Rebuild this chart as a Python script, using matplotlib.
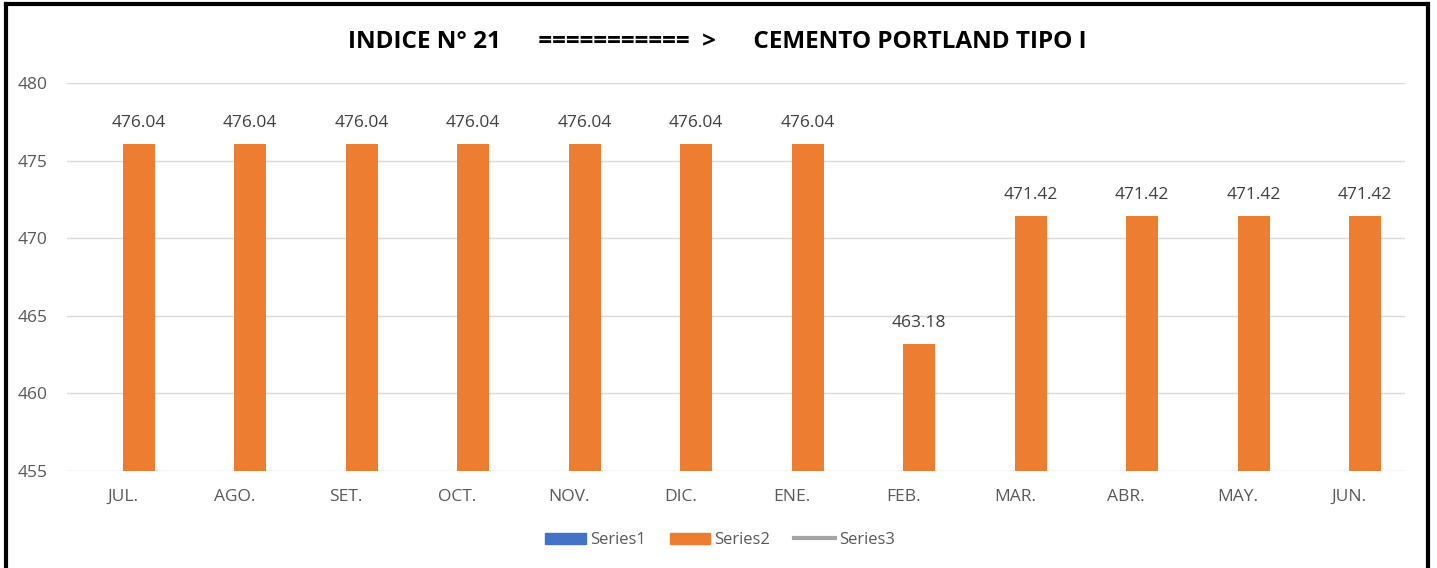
import matplotlib
matplotlib.use("Agg")
import matplotlib.pyplot as plt
import numpy as np
from matplotlib.lines import Line2D
from matplotlib.patches import Patch

categories = ["JUL.", "AGO.", "SET.", "OCT.", "NOV.", "DIC.", "ENE.", "FEB.", "MAR.", "ABR.", "MAY.", "JUN."]
series1 = [np.nan] * 12
series2 = [476.04, 476.04, 476.04, 476.04, 476.04, 476.04, 476.04, 463.18, 471.42, 471.42, 471.42, 471.42]
series3 = [np.nan] * 12
yticks = [455, 460, 465, 470, 475, 480]
title = "INDICE N° 21      ===========  >      CEMENTO PORTLAND TIPO I"

plt.rcParams['font.family'] = ['Open Sans', 'DejaVu Sans']

fig = plt.figure(figsize=(14.37, 5.68), dpi=100)
ax = fig.add_axes([67/1437, 1-471/568, (1405-67)/1437, (471-83)/568])

x = np.arange(len(categories))
w = 0.287
ax.bar(x - w/2, series1, w, color="#4472C4", label="Series1")
bars = ax.bar(x + w/2, series2, w, color="#ED7D31", label="Series2")
ax.plot(x, series3, color="#A5A5A5", lw=3, label="Series3")

for xi, v in zip(x, series2):
    ax.text(xi + w/2, v + 0.85, f"{v:.2f}", ha="center", va="bottom", fontsize=12.5, color="#404040")

ax.set_xlim(-0.5, 11.5)
ax.set_ylim(455, 480)
ax.set_yticks(yticks)
ax.set_xticks(x)
ax.set_xticklabels(categories)
ax.tick_params(axis="both", length=0, labelsize=12.5, labelcolor="#595959")
ax.tick_params(axis="x", pad=13)
ax.tick_params(axis="y", pad=14)
ax.grid(axis="y", color="#D9D9D9", lw=1)
ax.set_axisbelow(True)
for s in ax.spines.values():
    s.set_visible(False)

fig.text(717/1437, 1-42/568, title, ha="center", va="center", fontsize=17.5, fontweight="bold", color="black")

handles = [Patch(color="#4472C4"), Patch(color="#ED7D31"), Line2D([], [], color="#A5A5A5", lw=3)]
fig.legend(handles, ["Series1", "Series2", "Series3"], loc="center", bbox_to_anchor=(720/1437, 1-540/568),
           ncol=3, frameon=False, fontsize=12, labelcolor="#595959", handlelength=2.45, handleheight=0.65,
           handletextpad=0.25, columnspacing=1.4)

# border
fig.add_artist(Line2D([6/1437, 6/1437], [0, 1-4/568], color="black", lw=3, transform=fig.transFigure))
fig.add_artist(Line2D([6/1437, 1428/1437], [1-4/568, 1-4/568], color="black", lw=3, transform=fig.transFigure))
fig.add_artist(Line2D([1428/1437, 1428/1437], [0, 1-4/568], color="black", lw=3, transform=fig.transFigure))

fig.savefig("out.png", dpi=100)
